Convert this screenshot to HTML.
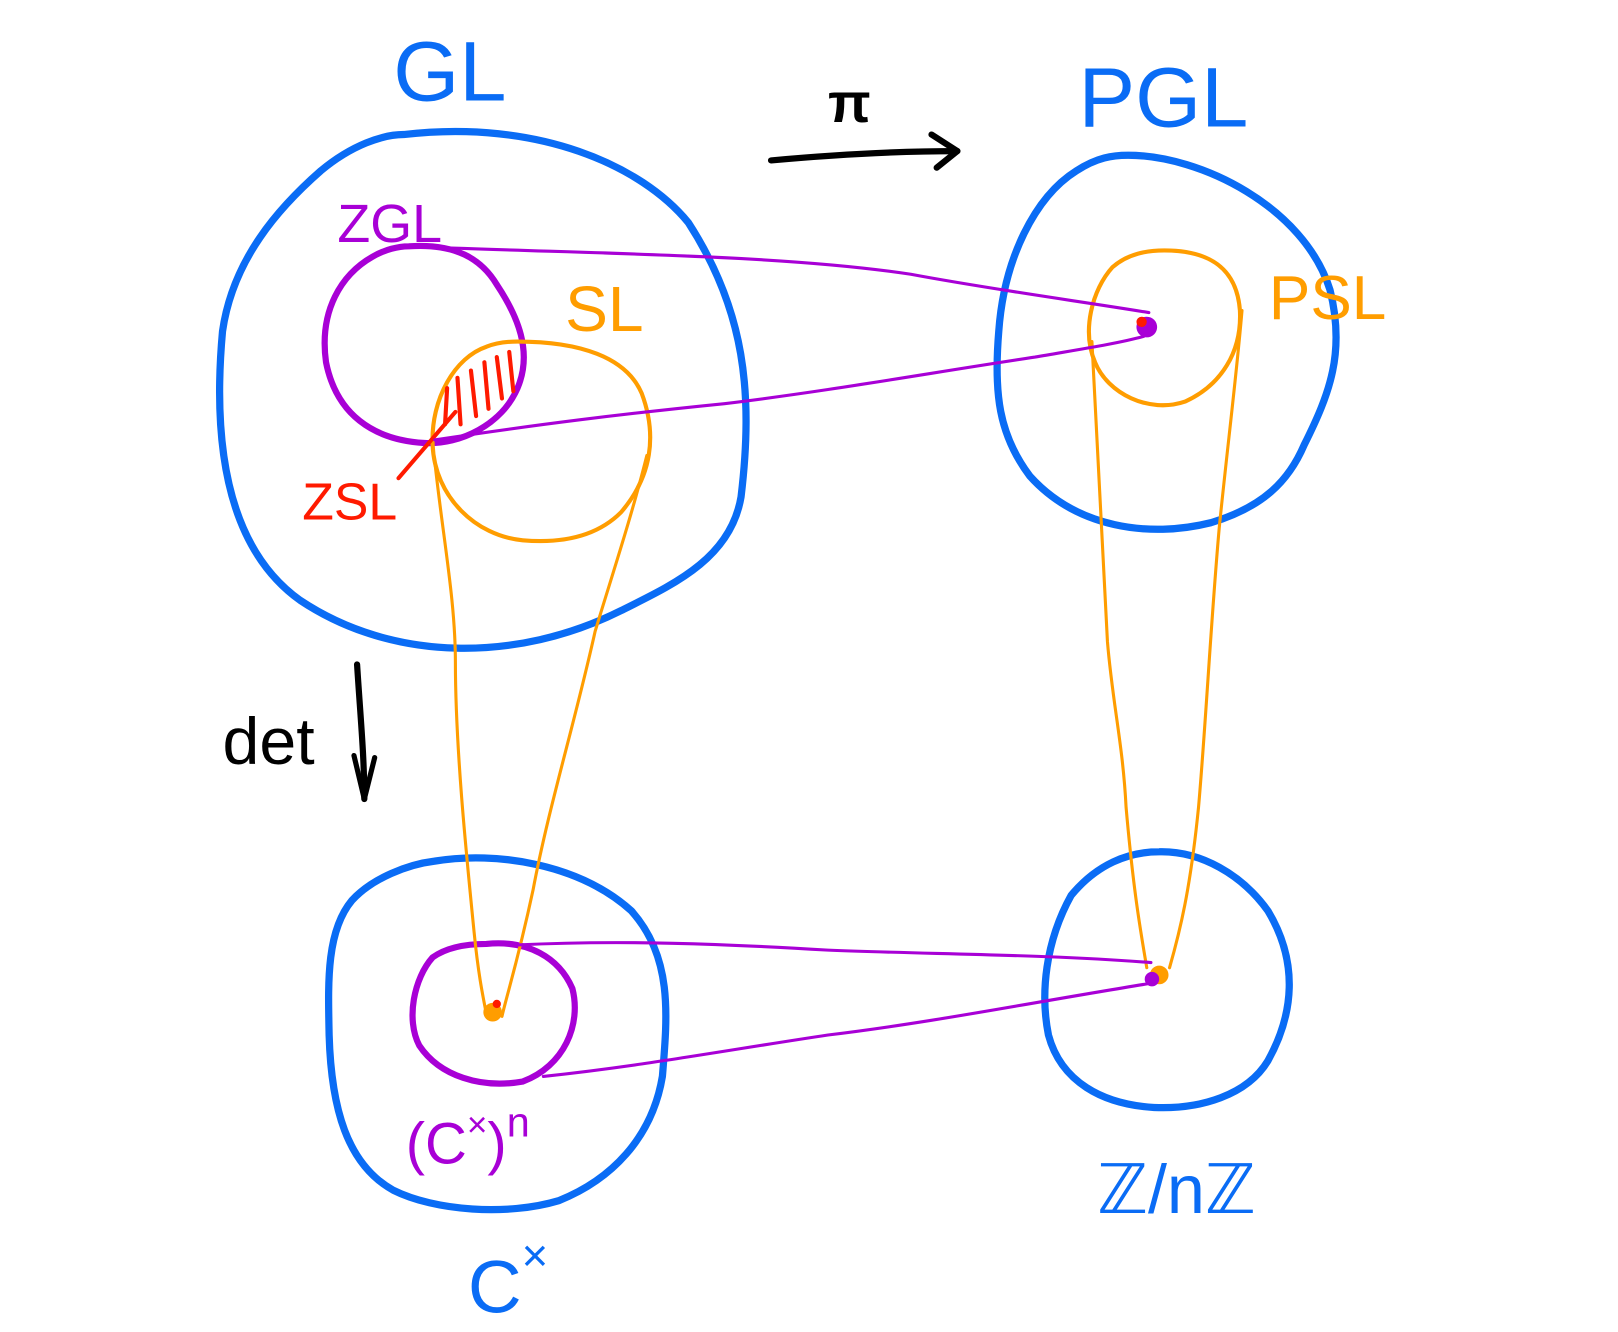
<!DOCTYPE html>
<html><head><meta charset="utf-8"><style>
html,body{margin:0;padding:0;background:#fff;}
svg{display:block;}
text{font-family:"Liberation Sans",sans-serif;}
</style></head><body>
<svg width="1618" height="1332" viewBox="0 0 1618 1332" xmlns="http://www.w3.org/2000/svg" fill="none" stroke-linecap="round" stroke-linejoin="round">
<g transform="scale(1.035)">
<path d="M390,130 C520,115 620,160 665,215 C720,300 728,380 716,480 C706,540 650,565 600,590 C500,640 380,640 290,580 C220,530 205,430 215,320 C225,250 270,200 310,165 C340,140 370,130 390,130 Z" stroke="#0a6cf5" stroke-width="7"/>
<path d="M1090,150 C1160,150 1260,200 1285,280 C1300,340 1285,380 1260,430 C1245,465 1220,490 1170,505 C1110,520 1040,510 995,460 C965,420 960,380 965,320 C970,250 1000,190 1040,165 C1060,152 1075,150 1090,150 Z" stroke="#0a6cf5" stroke-width="7"/>
<path d="M420,832 C480,822 560,835 610,880 C650,925 645,980 640,1040 C630,1100 590,1140 540,1160 C490,1175 420,1170 380,1150 C335,1125 320,1070 318,1000 C317,950 315,900 340,870 C360,848 395,835 420,832 Z" stroke="#0a6cf5" stroke-width="7"/>
<path d="M1120,823 C1160,822 1200,845 1225,880 C1255,930 1250,980 1225,1025 C1205,1058 1160,1072 1115,1070 C1065,1067 1025,1045 1013,1000 C1005,960 1010,910 1035,865 C1060,835 1090,823 1120,823 Z" stroke="#0a6cf5" stroke-width="7"/>
<path d="M395,238 C440,235 465,250 480,275 C500,305 515,340 500,375 C485,410 445,430 410,428 C360,425 325,400 315,350 C308,300 330,265 360,248 C372,241 385,238 395,238 Z" stroke="#a800d6" stroke-width="6"/>
<path d="M500,330 C560,330 605,345 620,380 C635,420 630,460 600,495 C575,520 540,525 505,522 C460,518 420,480 418,430 C416,385 440,345 470,335 C480,331 490,330 500,330 Z" stroke="#ff9d00" stroke-width="4"/>
<g stroke="#ff1a00" stroke-width="4">
<line x1="432" y1="375" x2="430" y2="410"/><line x1="442" y1="365" x2="445" y2="410"/>
<line x1="455" y1="358" x2="460" y2="402"/><line x1="468" y1="350" x2="472" y2="395"/>
<line x1="480" y1="345" x2="485" y2="385"/><line x1="492" y1="340" x2="496" y2="378"/>
<line x1="385" y1="462" x2="440" y2="398"/>
</g>
<path d="M1125,242 C1170,242 1195,260 1198,300 C1200,340 1180,372 1145,388 C1110,400 1070,380 1058,350 C1045,320 1055,280 1075,258 C1090,245 1108,242 1125,242 Z" stroke="#ff9d00" stroke-width="4"/>
<path d="M470,912 C510,908 540,925 553,955 C562,990 545,1030 505,1045 C465,1052 425,1040 405,1010 C392,985 400,945 418,925 C432,915 450,912 470,912 Z" stroke="#a800d6" stroke-width="6"/>
<path d="M420,445 C428,520 440,580 440,640 C440,720 450,820 458,900 C462,940 466,960 470,980" stroke="#ff9d00" stroke-width="3"/>
<path d="M625,440 C610,500 590,560 575,610 C555,700 530,780 515,860 C500,930 490,960 485,982" stroke="#ff9d00" stroke-width="3"/>
<path d="M1055,330 C1060,420 1065,530 1070,620 C1075,680 1085,720 1088,780 C1095,860 1102,900 1108,935" stroke="#ff9d00" stroke-width="3"/>
<path d="M1200,300 C1195,360 1185,440 1178,510 C1170,600 1165,700 1158,780 C1150,860 1140,900 1130,935" stroke="#ff9d00" stroke-width="3"/>
<path d="M395,238 C550,245 750,245 880,265 C960,280 1050,292 1110,302" stroke="#a800d6" stroke-width="3"/>
<path d="M420,425 C520,410 600,400 700,390 C800,378 900,360 1000,345 C1040,338 1080,332 1105,325" stroke="#a800d6" stroke-width="3"/>
<path d="M500,913 C600,908 700,912 800,918 C900,922 1010,922 1112,930" stroke="#a800d6" stroke-width="3"/>
<path d="M525,1040 C620,1030 700,1015 800,1000 C900,988 1000,968 1112,950" stroke="#a800d6" stroke-width="3"/>
<circle cx="1108" cy="316" r="10" fill="#a800d6"/>
<circle cx="1103" cy="311" r="5" fill="#ff1a00"/>
<circle cx="476" cy="978" r="9" fill="#ff9d00"/>
<circle cx="480" cy="970" r="4" fill="#ff1a00"/>
<circle cx="1120" cy="942" r="9" fill="#ff9d00"/>
<circle cx="1113" cy="946" r="7" fill="#a800d6"/>
<path d="M745,155 C800,150 860,146 925,146" stroke="#000" stroke-width="6"/>
<path d="M900,130 L925,146 L905,162" stroke="#000" stroke-width="6"/>
<path d="M345,642 C348,690 352,730 352,772" stroke="#000" stroke-width="6"/>
<path d="M342,730 L352,772 L362,732" stroke="#000" stroke-width="5"/>
<text x="380" y="97" font-size="82" fill="#0a6cf5">GL</text>
<text x="1042" y="122" font-size="82" fill="#0a6cf5">PGL</text>
<text x="326" y="234" font-size="52" fill="#a800d6">ZGL</text>
<text x="546" y="320" font-size="62" fill="#ff9d00">SL</text>
<text x="1226" y="308" font-size="60" fill="#ff9d00">PSL</text>
<text x="292" y="502" font-size="50" fill="#ff1a00">ZSL</text>
<text x="800" y="118" font-size="54" font-weight="bold" fill="#000">π</text>
<text x="215" y="738" font-size="64" fill="#000">det</text>
<text x="392" y="1124" font-size="56" fill="#a800d6">(C<tspan font-size="34" dy="-26">×</tspan><tspan dy="26">)</tspan><tspan font-size="40" dy="-26">n</tspan></text>
<text x="452" y="1268" font-size="72" fill="#0a6cf5">C<tspan font-size="44" dy="-40">×</tspan></text>
<text x="1060" y="1172" font-size="66" fill="#0a6cf5">ℤ/nℤ</text>
</g>
</svg>
</body></html>
